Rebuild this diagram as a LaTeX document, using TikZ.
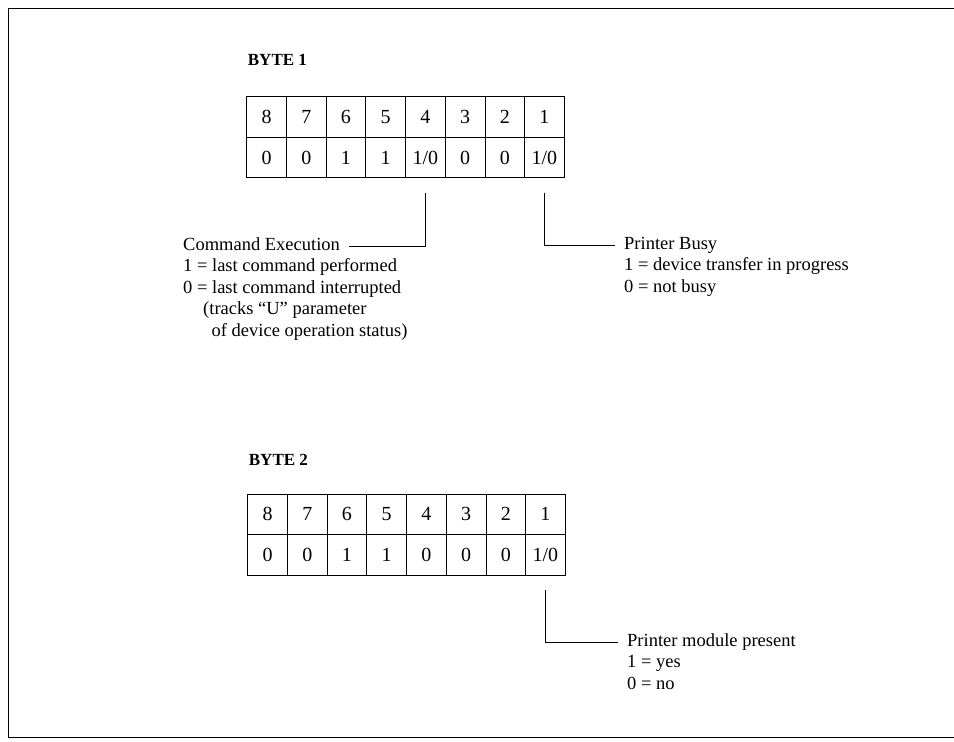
\documentclass[tikz,border=0pt]{standalone}
\usepackage{fontspec}
\setmainfont{Liberation Serif}
\usetikzlibrary{positioning}

\begin{document}
\begin{tikzpicture}[
    x=1pt, y=-1pt,
    cell/.style={
        draw,
        line width=0.8pt,
        minimum width=39.7pt,
        minimum height=40.5pt,
        inner sep=0pt,
        outer sep=0pt,
        font=\fontsize{20}{22}\selectfont
    },
    bytelabel/.style={
        anchor=base west,
        inner sep=0pt,
        font=\bfseries\fontsize{17}{20}\selectfont
    },
    title/.style={
        anchor=base west,
        inner xsep=9pt,
        inner ysep=0pt,
        text height=12pt,
        text depth=4pt,
        font=\fontsize{18.5}{21.5}\selectfont
    },
    body/.style={
        anchor=base west,
        inner sep=0pt,
        align=left,
        font=\fontsize{18.5}{21.5}\selectfont
    },
    wire/.style={line width=0.7pt}
]
\useasboundingbox (0,0) rectangle (954,742);

% frame
\draw[line width=0.8pt] (954,8) -- (8,8) -- (8,737) -- (954,737);

% byte 1
\node[bytelabel] (byte1) at (247.7,65) {BYTE 1};
\node[cell] (b1t8) at (266.55,116.95) {8};
\foreach \b [remember=\b as \p (initially 8)] in {7,...,1}
    \node[cell, right=0pt of b1t\p] (b1t\b) {\b};
\foreach \b/\v in {8/0,7/0,6/1,5/1,4/{1/0},3/0,2/0,1/{1/0}}
    \node[cell, below=0pt of b1t\b] (b1v\b) {\v};

% byte 2
\node[bytelabel] (byte2) at (248.7,465) {BYTE 2};
\node[cell] (b2t8) at (267.55,514.25) {8};
\foreach \b [remember=\b as \p (initially 8)] in {7,...,1}
    \node[cell, right=0pt of b2t\p] (b2t\b) {\b};
\foreach \b/\v in {8/0,7/0,6/1,5/1,4/0,3/0,2/0,1/{1/0}}
    \node[cell, below=0pt of b2t\b] (b2v\b) {\v};

% notes (a multi-line node sits on its last baseline)
\node[title] (cmdtitle) at (174,250) {Command Execution};
\node[body] (cmdbody) at ([xshift=9pt,yshift=-86pt]cmdtitle.base west) {
    1 = last command performed\\
    0 = last command interrupted\\
    \hspace*{20pt}(tracks “U” parameter\\
    \hspace*{28.5pt}of device operation status)
};

\node[title] (busytitle) at (615,249) {Printer Busy};
\node[body] (busybody) at ([xshift=9pt,yshift=-43pt]busytitle.base west) {
    1 = device transfer in progress\\
    0 = not busy
};

\node[title] (modtitle) at (618,646) {Printer module present};
\node[body] (modbody) at ([xshift=9pt,yshift=-43pt]modtitle.base west) {
    1 = yes\\
    0 = no
};

\draw[wire] ([yshift=-15pt]b1v4.south) |- (cmdtitle.east);
\draw[wire] ([yshift=-15pt]b1v1.south) |- (busytitle.west);
\draw[wire] ([yshift=-15pt]b2v1.south) |- (modtitle.west);

\end{tikzpicture}
\end{document}
